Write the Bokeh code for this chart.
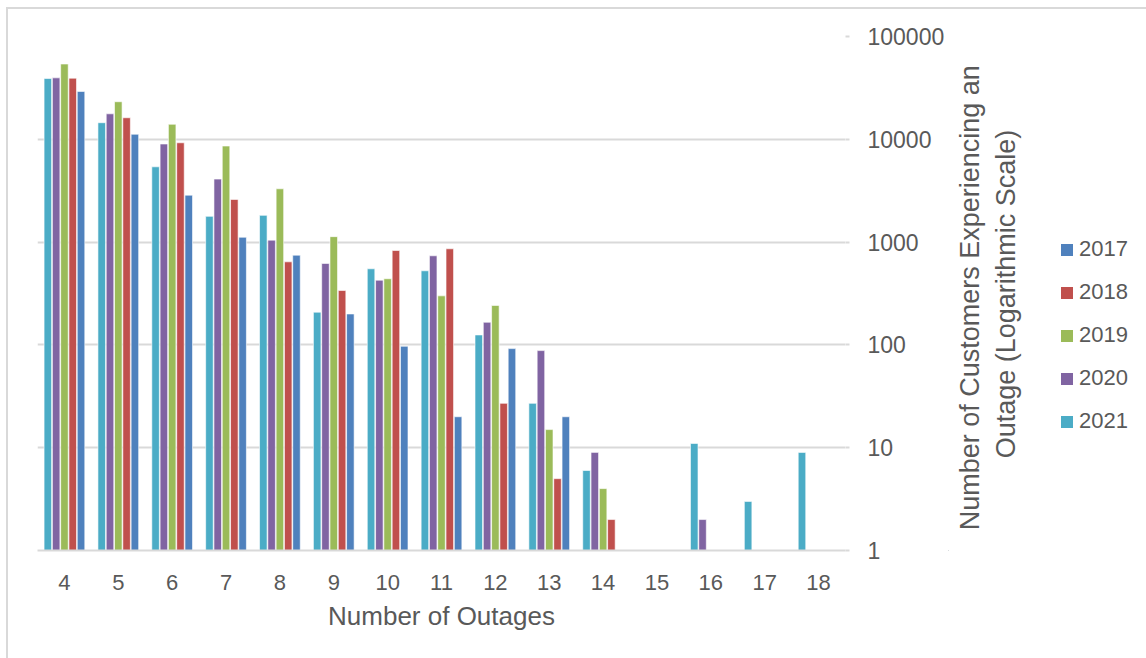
import math
from bokeh.plotting import figure
from bokeh.layouts import row
from bokeh.models import (ColumnDataSource, FixedTicker, Legend, LegendItem,
                          Range1d, NumeralTickFormatter, Label)
from bokeh.embed import file_html
from bokeh.resources import INLINE

# Number of outages per customer (x categories)
outages = [4, 5, 6, 7, 8, 9, 10, 11, 12, 13, 14, 15, 16, 17, 18]

# Customers experiencing that many outages, per year (None = no customers)
cust_2017 = [29200, 11200, 2860, 1115, 746, 200, 97, 20, 92, 20, None, None, None, None, None]
cust_2018 = [39300, 16200, 9250, 2600, 643, 338, 828, 861, 27, 5, 2, None, None, None, None]
cust_2019 = [54000, 23200, 14000, 8600, 3300, 1130, 440, 300, 242, 15, 4, None, None, None, None]
cust_2020 = [39600, 17700, 9000, 4100, 1045, 620, 426, 736, 166, 88, 9, None, 2, None, None]
cust_2021 = [39000, 14500, 5400, 1780, 1820, 208, 550, 526, 125, 27, 6, None, 11, 3, 9]

years = ["2017", "2018", "2019", "2020", "2021"]
series = [cust_2017, cust_2018, cust_2019, cust_2020, cust_2021]
colors = ["#4F81BD", "#C0504D", "#9BBB59", "#8064A2", "#4BACC6"]
# within each group the newest year sits on the left
slots = [2, 1, 0, -1, -2]

y_ticks = [1, 10, 100, 1000, 10000, 100000]
y_title = "Number of Customers  Experiencing an\nOutage (Logarithmic Scale)"
x_title = "Number of Outages"

FONT = "Liberation Sans"
TEXT = "#595959"
GRID = "#d9d9d9"

# ---- main chart: bars, x axis below, log axis on the right ----
p = figure(frame_width=808, frame_height=514, y_axis_type="log", y_axis_location="right",
           x_range=Range1d(3.5, 18.5), y_range=Range1d(1, 100000),
           output_backend="svg", toolbar_location=None,
           min_border_left=29, min_border_top=27,
           min_border_right=103, min_border_bottom=108)

slot_w = 0.154
for yr, vals, col, s in zip(years, series, colors, slots):
    xs = [o + s * slot_w for o, v in zip(outages, vals) if v]
    tops = [v for v in vals if v]
    src = ColumnDataSource(dict(x=xs, top=tops))
    p.vbar(x="x", top="top", bottom=1, width=0.14, source=src,
           fill_color=col, line_color="white", line_alpha=0.6, line_width=1)

p.outline_line_color = None
p.background_fill_color = "white"
p.border_fill_color = "white"

p.xgrid.visible = False
p.ygrid.grid_line_color = GRID
p.ygrid.grid_line_width = 2
p.ygrid.minor_grid_line_color = None

xa = p.xaxis[0]
xa.ticker = FixedTicker(ticks=outages)
xa.axis_line_color = GRID
xa.axis_line_width = 2
xa.major_tick_line_color = None
xa.minor_tick_line_color = None
xa.major_label_standoff = 18
xa.major_label_text_font = FONT
xa.major_label_text_font_size = "22px"
xa.major_label_text_color = TEXT
xa.axis_label = x_title
xa.axis_label_text_font = FONT
xa.axis_label_text_font_size = "26px"
xa.axis_label_text_font_style = "normal"
xa.axis_label_text_color = TEXT
xa.axis_label_standoff = 8

ya = p.yaxis[0]
ya.ticker = FixedTicker(ticks=y_ticks)
ya.formatter = NumeralTickFormatter(format="0")
ya.axis_line_color = None
ya.major_tick_line_color = GRID
ya.major_tick_line_width = 2
ya.major_tick_out = 4
ya.major_tick_in = 0
ya.minor_tick_line_color = None
ya.major_label_standoff = 18
ya.major_label_text_font = FONT
ya.major_label_text_font_size = "23px"
ya.major_label_text_color = TEXT

# ---- side panel: y-axis title (reading upwards) and the year legend ----
# its frame lines up with the main chart's frame (same top and bottom)
side = figure(width=198, height=649, x_range=Range1d(0, 1), y_range=Range1d(0, 1),
              output_backend="svg", toolbar_location=None,
              min_border=0, x_axis_location=None, y_axis_location=None)
side.grid.visible = False
side.outline_line_color = None
side.background_fill_color = "white"
side.border_fill_color = "white"

side.add_layout(Label(x=39.5, y=256.5, x_units="screen", y_units="screen",
                      text=y_title, angle=math.pi / 2,
                      text_align="center", text_baseline="middle",
                      text_font=FONT, text_font_size="27px", text_color=TEXT,
                      text_line_height=1.2))

# legend keys: one swatch per year, parked well outside the visible ranges
items = []
for yr, col in zip(years, colors):
    key = side.vbar(x=[-5], top=[-5], bottom=[-6], width=1,
                    fill_color=col, line_color=None)
    items.append(LegendItem(label=yr, renderers=[key]))

legend = Legend(items=items, location=(111, 116), orientation="vertical",
                glyph_width=15, glyph_height=15, label_standoff=5,
                label_height=20, spacing=17, padding=0, margin=0,
                label_text_font=FONT, label_text_font_size="22px",
                label_text_color=TEXT, border_line_color=None,
                background_fill_color=None)
side.add_layout(legend)

layout = row(p, side, spacing=0,
             styles={"margin-left": "6px", "margin-top": "7px",
                     "border-left": "2px solid #d9d9d9",
                     "border-top": "2px solid #d9d9d9"})

open("out.html", "w").write(file_html(layout, INLINE))
